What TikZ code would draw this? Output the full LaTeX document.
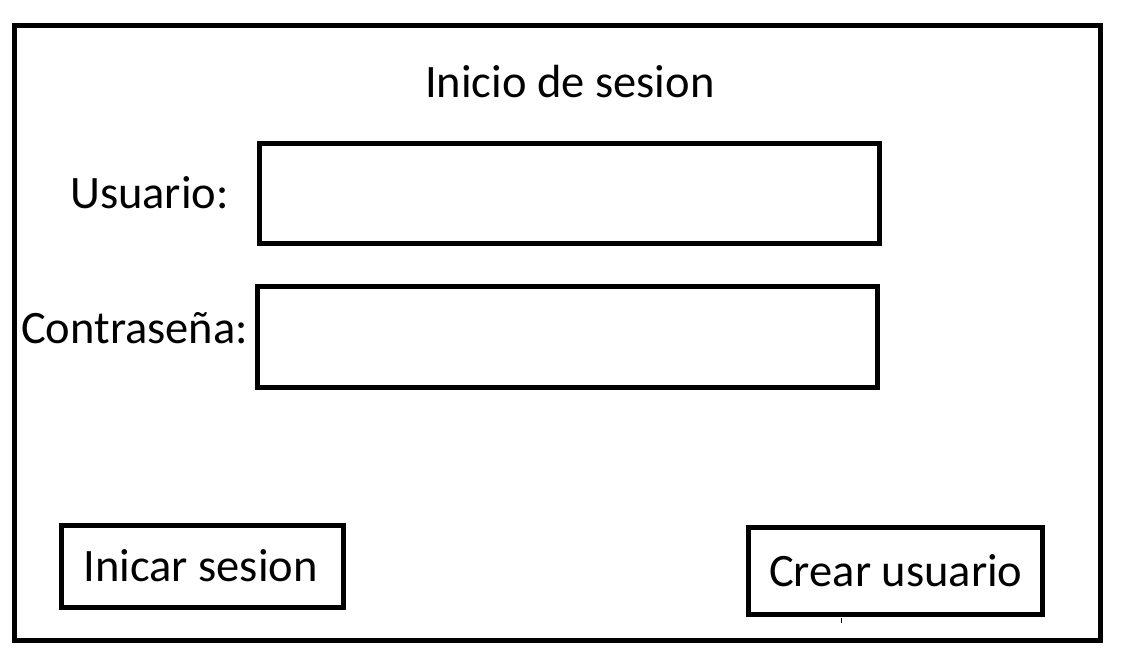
\documentclass[tikz,border=0pt]{standalone}
\usepackage{fontspec}
\setmainfont{Carlito}
\begin{document}
\begin{tikzpicture}[x=1pt,y=-1pt,
  frame/.style={draw=black,line width=4.6pt},
  field/.style={draw=black,line width=5pt,inner sep=0pt,outer sep=0pt,anchor=north west},
  lbl/.style={inner sep=0pt,anchor=base west,font=\fontsize{46.5}{56}\selectfont}]
\useasboundingbox (0,0) rectangle (1122,661);
\draw[frame] (14.5,25.5) rectangle (1100.5,640.5);
\node[lbl] (title) at (425,97) {Inicio de sesion};
\node[lbl] (ulbl) at (70,208) {Usuario:};
\node[field,minimum width=619.5pt,minimum height=100pt] (ubox) at (259.5,143) {};
\node[lbl] (clbl) at (21,343) {Contraseña:};
\node[field,minimum width=620pt,minimum height=101pt] (cbox) at (257.5,286.5) {};
\node[field,minimum width=281.6pt,minimum height=82.5pt] (login) at (61.7,525) {};
\node[lbl] (logintxt) at (83.3,581.7) {Inicar sesion};
\node[field,minimum width=294pt,minimum height=87pt] (create) at (748.5,527.5) {};
\node[lbl] (createtxt) at (769,586) {Crear usuario};
\coordinate (ta) at (841.5,618);
\coordinate (tb) at (841.5,623);
\draw[line width=1pt] (ta) -- (tb);
\end{tikzpicture}
\end{document}
